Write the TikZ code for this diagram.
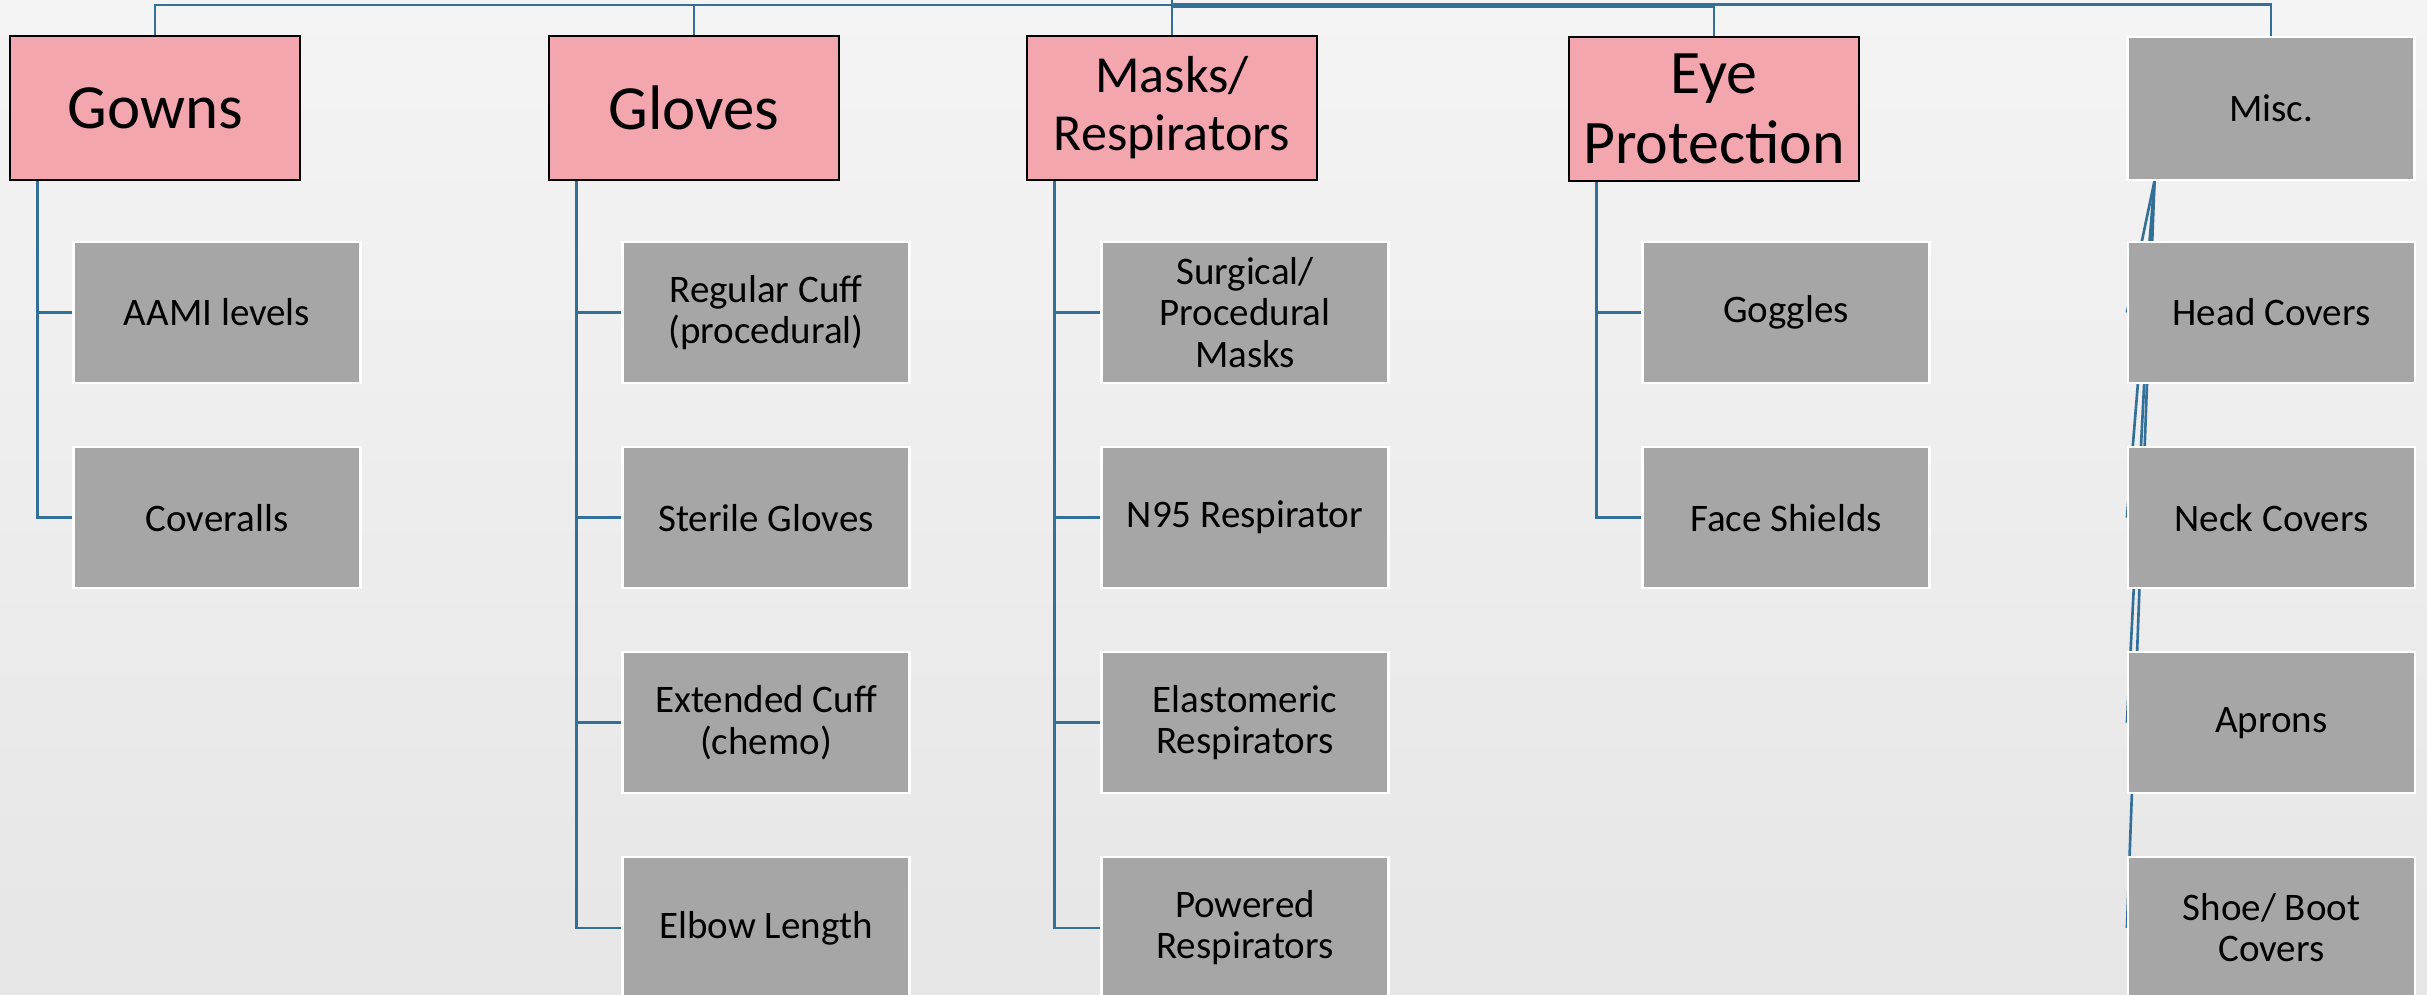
\documentclass[tikz,border=0pt]{standalone}
\usepackage{fontspec}
\setmainfont{Carlito}
\usetikzlibrary{positioning}
\definecolor{pinkbox}{RGB}{244,166,174}
\definecolor{greybox}{RGB}{166,166,166}
\definecolor{linkblue}{RGB}{50,112,152}
\definecolor{bgtop}{RGB}{244,244,244}
\definecolor{bgbot}{RGB}{230,230,230}
\pgfdeclarelayer{bg}
\pgfdeclarelayer{wires}
\pgfsetlayers{bg,wires,main}

\begin{document}
\begin{tikzpicture}[x=0.1mm, y=-0.1mm,
    node distance = 6.2mm,
    head/.style = {draw=black, line width=0.75pt, fill=pinkbox, minimum width=29mm,
      minimum height=14.4mm, inner sep=0pt, align=center},
    item/.style = {draw=white, line width=0.6pt, fill=greybox, minimum width=28.7mm,
      minimum height=14.1mm, inner sep=0pt, align=center, font=\fontsize{11.1}{11.8}\selectfont},
    link/.style = {draw=linkblue, line width=0.75pt}
    ]
    \useasboundingbox (0,0) rectangle (2427,994);
    \begin{pgfonlayer}{bg}
    \shade[top color=bgtop, bottom color=bgbot] (0,0) rectangle (2427,994);
    \end{pgfonlayer}

    \node[head, font=\fontsize{17.9}{20}\selectfont] (gowns) at (155,108) {Gowns};
    \node[head, font=\fontsize{17.9}{20}\selectfont] (gloves) at (694,108) {Gloves};
    \node[head, font=\fontsize{14.8}{16.5}\selectfont] (masks) at (1172,108) {Masks/\\Respirators};
    \node[head, font=\fontsize{17.6}{19.9}\selectfont] (eye) at (1714,109) {Eye\\Protection};
    \node[item, minimum height=14.3mm] (misc) at (2271,108.5) {Misc.};

    \node[item] (aami) at (217,312.5) {AAMI levels};
    \node[item, below=of aami] (coveralls) {Coveralls};

    \node[item] (regcuff) at (766,312.5) {Regular Cuff\\(procedural)};
    \node[item, below=of regcuff] (sterile) {Sterile Gloves};
    \node[item, below=of sterile] (extcuff) {Extended Cuff\\(chemo)};
    \node[item, below=of extcuff] (elbow) {Elbow Length};

    \node[item] (surgical) at (1245,312.5) {Surgical/\\Procedural\\Masks};
    \node[item, below=of surgical] (nninety) {N95 Respirator};
    \node[item, below=of nninety] (elasto) {Elastomeric\\Respirators};
    \node[item, below=of elasto] (powered) {Powered\\Respirators};

    \node[item] (goggles) at (1786,312.5) {Goggles};
    \node[item, below=of goggles] (shields) {Face Shields};

    \node[item] (headcov) at (2271.5,312.5) {Head Covers};
    \node[item, below=of headcov] (neckcov) {Neck Covers};
    \node[item, below=of neckcov] (aprons) {Aprons};
    \node[item, below=of aprons] (shoecov) {Shoe/ Boot\\Covers};

    \begin{pgfonlayer}{wires}
    \coordinate (root) at (1172,0);
    \draw[link] (root) -- (1172,5) -| (gowns.north);
    \draw[link] (root) -- (1172,5) -| (gloves.north);
    \draw[link] (root) -- (masks.north);
    \draw[link] (root) -- (1172,6.5) -| (eye.north);
    \draw[link] (root) -- (1172,4.5) -| (misc.north);
    \foreach \h/\c in {gowns/aami, gowns/coveralls,
        gloves/regcuff, gloves/sterile, gloves/extcuff, gloves/elbow,
        masks/surgical, masks/nninety, masks/elasto, masks/powered,
        eye/goggles, eye/shields}
      \draw[link] ([xshift=2.9mm]\h.south west) |- (\c.west);
    \foreach \c in {headcov, neckcov, aprons, shoecov}
      \draw[link] ([xshift=2.8mm]misc.south west) -- (\c.west);
    \end{pgfonlayer}
\end{tikzpicture}
\end{document}
